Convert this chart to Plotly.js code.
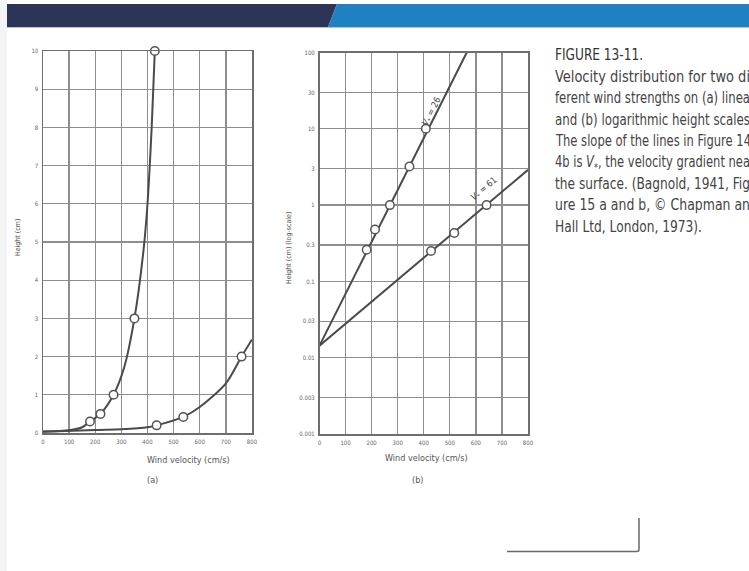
<!DOCTYPE html>
<html>
<head>
<meta charset="utf-8">
<script src="https://cdn.plot.ly/plotly-3.0.1.min.js"></script>
<style>
  html, body { margin: 0; padding: 0; background: #ffffff; }
  #chart { width: 749px; height: 571px; }
</style>
</head>
<body>
<div id="chart"></div>
<script>
// ---------- data ----------
// x tick values (wind velocity, cm/s)
const velTicks = [0, 100, 200, 300, 400, 500, 600, 700, 800];
const velTickText = ['0', '100', '200', '300', '400', '500', '600', '700', '800'];

// (a) linear height scale
const heightTicksA = [0, 1, 2, 3, 4, 5, 6, 7, 8, 9, 10];
const heightTickTextA = ['0', '1', '2', '3', '4', '5', '6', '7', '8', '9', '10'];

// weaker wind (V* = 26) curve on linear scale
const aCurve1Vel = [0, 100, 150, 180, 220, 270, 310, 350, 385, 400, 416, 428];
const aCurve1Hgt = [0.04, 0.07, 0.15, 0.3, 0.5, 1.0, 1.7, 3.0, 4.8, 6.0, 8.0, 10.0];
const aMarks1Vel = [180, 220, 270, 350, 428];
const aMarks1Hgt = [0.3, 0.5, 1.0, 3.0, 10.0];

// stronger wind (V* = 61) curve on linear scale
const aCurve2Vel = [0, 200, 300, 400, 435, 537, 600, 700, 760, 800];
const aCurve2Hgt = [0.03, 0.08, 0.1, 0.15, 0.2, 0.42, 0.68, 1.3, 2.0, 2.45];
const aMarks2Vel = [435, 537, 760];
const aMarks2Hgt = [0.2, 0.42, 2.0];

// (b) logarithmic height scale
const heightTicksB = [0.001, 0.003, 0.01, 0.03, 0.1, 0.3, 1, 3, 10, 30, 100];
const heightTickTextB = ['0.001', '0.003', '0.01', '0.03', '0.1', '0.3', '1', '3', '10', '30', '100'];

const bLine1Vel = [0, 565];
const bLine1Hgt = [0.0144, 100];
const bMarks1Vel = [181, 213, 270, 345, 408];
const bMarks1Hgt = [0.26, 0.48, 1.0, 3.2, 10];

const bLine2Vel = [0, 800];
const bLine2Hgt = [0.0144, 2.9];
const bMarks2Vel = [428, 517, 641];
const bMarks2Hgt = [0.25, 0.43, 1.0];

// caption as visible in the reference (right edge cut by the page)
const captionTitle = 'FIGURE 13-11.';
const captionLines = [
  'Velocity distribution for two di',
  'ferent wind strengths on (a) linea',
  'and (b) logarithmic height scales',
  'The slope of the lines in Figure 14',
  '4b is <i>V</i><sub>*</sub>, the velocity gradient nea',
  'the surface. (Bagnold, 1941, Fig',
  'ure 15 a and b, \u00A9 Chapman an',
  'Hall Ltd, London, 1973).'
];
// width each caption line fills (the last line is not justified)
const captionWidths = [195, 195, 195, 195, 195, 195, 195, 147];

// ---------- helpers ----------
const W = 749, H = 571;
const px = x => x / W;
const py = y => 1 - y / H;
const FONT = 'Liberation Sans Narrow, DejaVu Sans Condensed, Liberation Sans, sans-serif';
const curveColor = '#4a4a4a';
const gridColor = '#8e8e8e';

function curve(x, y, xa, ya) {
  return { x: x, y: y, xaxis: xa, yaxis: ya, mode: 'lines', type: 'scatter',
    line: { color: curveColor, width: 2, shape: 'spline', smoothing: 0.8 },
    hoverinfo: 'skip', showlegend: false };
}
function straight(x, y, xa, ya) {
  return { x: x, y: y, xaxis: xa, yaxis: ya, mode: 'lines', type: 'scatter',
    line: { color: curveColor, width: 2 }, hoverinfo: 'skip', showlegend: false };
}
function marks(x, y, xa, ya) {
  return { x: x, y: y, xaxis: xa, yaxis: ya, mode: 'markers', type: 'scatter',
    marker: { symbol: 'circle', size: 8.5, color: '#ffffff', line: { color: '#555555', width: 1.5 } },
    hoverinfo: 'skip', showlegend: false, cliponaxis: false };
}

const traces = [
  curve(aCurve1Vel, aCurve1Hgt, 'x', 'y'),
  curve(aCurve2Vel, aCurve2Hgt, 'x', 'y'),
  marks(aMarks1Vel, aMarks1Hgt, 'x', 'y'),
  marks(aMarks2Vel, aMarks2Hgt, 'x', 'y'),
  straight(bLine1Vel, bLine1Hgt, 'x2', 'y2'),
  straight(bLine2Vel, bLine2Hgt, 'x2', 'y2'),
  marks(bMarks1Vel, bMarks1Hgt, 'x2', 'y2'),
  marks(bMarks2Vel, bMarks2Hgt, 'x2', 'y2')
];

const axisCommon = {
  showgrid: true, gridcolor: gridColor, gridwidth: 1.3,
  showline: true, linecolor: '#6e6e6e', linewidth: 1.5, mirror: true,
  zeroline: false, ticks: '', fixedrange: true,
  tickfont: { family: FONT, size: 6, color: '#666666' }
};

const annotations = [
  // axis titles
  { text: 'Wind velocity (cm/s)', x: px(145), y: py(467), xref: 'paper', yref: 'paper', showarrow: false,
    font: { family: FONT, size: 9, color: '#555' } },
  { text: '(a)', x: px(145), y: py(487), xref: 'paper', yref: 'paper', showarrow: false,
    font: { family: FONT, size: 9, color: '#555' } },
  { text: 'Wind velocity (cm/s)', x: px(426), y: py(465), xref: 'paper', yref: 'paper', showarrow: false,
    font: { family: FONT, size: 9, color: '#555' } },
  { text: '(b)', x: px(417), y: py(487), xref: 'paper', yref: 'paper', showarrow: false,
    font: { family: FONT, size: 9, color: '#555' } },
  { text: 'Height (cm)', x: px(12), y: py(238), xref: 'paper', yref: 'paper', showarrow: false, textangle: -90,
    font: { family: FONT, size: 7, color: '#555' } },
  { text: 'Height (cm) (log-scale)', x: px(289), y: py(248), xref: 'paper', yref: 'paper', showarrow: false, textangle: -90,
    font: { family: FONT, size: 7, color: '#555' } },
  // line labels
  { text: '<i>V</i><sub>*</sub> = 26', x: px(432), y: py(93), xref: 'paper', yref: 'paper', showarrow: false, textangle: -63,
    font: { family: FONT, size: 9, color: '#444' } },
  { text: '<i>V</i><sub>*</sub> = 61', x: px(503), y: py(172), xref: 'paper', yref: 'paper', showarrow: false, textangle: -40,
    font: { family: FONT, size: 9, color: '#444' } }
];
const captionStart = annotations.length;
const captionAllWidths = [88].concat(captionWidths);
annotations.push({ text: captionTitle, x: px(553), y: py(55), xref: 'paper', yref: 'paper',
  xanchor: 'left', yanchor: 'middle', align: 'left', width: captionAllWidths[0] + 2,
  showarrow: false, font: { family: FONT, size: 16, color: '#333' } });
captionLines.forEach((t, i) => {
  annotations.push({ text: t, x: px(553), y: py(77 + i * 21.4), xref: 'paper', yref: 'paper',
    xanchor: 'left', yanchor: 'middle', align: 'left', showarrow: false,
    width: captionWidths[i] + 2, height: 18,
    font: { family: FONT, size: 15, color: '#444' } });
});

const shapes = [
  // grey left margin strip
  { type: 'rect', xref: 'paper', yref: 'paper', x0: 0, x1: px(7), y0: 0, y1: 1,
    fillcolor: '#f4f4f4', line: { width: 0 }, layer: 'below' },
  // header banner
  { type: 'path', xref: 'paper', yref: 'paper',
    path: `M ${px(7)} ${py(4)} L ${px(337)} ${py(4)} L ${px(328)} ${py(27)} L ${px(7)} ${py(27)} Z`,
    fillcolor: '#2c3458', line: { width: 0 } },
  { type: 'path', xref: 'paper', yref: 'paper',
    path: `M ${px(337)} ${py(4)} L ${px(749)} ${py(4)} L ${px(749)} ${py(27)} L ${px(328)} ${py(27)} Z`,
    fillcolor: '#1f80c2', line: { width: 0 } },
  { type: 'line', xref: 'paper', yref: 'paper', x0: px(7), x1: 1, y0: py(27.5), y1: py(27.5),
    line: { color: '#b9c3d6', width: 1 } },
  // bracket at lower right
  { type: 'path', xref: 'paper', yref: 'paper',
    path: `M ${px(507)} ${py(551.5)} L ${px(637)} ${py(551.5)} Q ${px(639)} ${py(551.5)} ${px(639)} ${py(549)} L ${px(639)} ${py(518)}`,
    line: { color: '#6a6a6a', width: 1.5 } }
];

const layout = {
  width: W, height: H,
  margin: { l: 0, r: 0, t: 0, b: 0, pad: 0 },
  paper_bgcolor: '#ffffff', plot_bgcolor: '#ffffff',
  showlegend: false,
  font: { family: FONT },
  xaxis: Object.assign({}, axisCommon, {
    domain: [px(43), px(252)], anchor: 'y', range: [0, 800],
    tickvals: velTicks, ticktext: velTickText, ticklabelstandoff: 2
  }),
  yaxis: Object.assign({}, axisCommon, {
    domain: [py(433), py(51)], anchor: 'x', range: [0, 10],
    tickvals: heightTicksA, ticktext: heightTickTextA, ticklabelstandoff: 2
  }),
  xaxis2: Object.assign({}, axisCommon, {
    domain: [px(319.5), px(528)], anchor: 'y2', range: [0, 800],
    tickvals: velTicks, ticktext: velTickText, ticklabelstandoff: 2
  }),
  yaxis2: Object.assign({}, axisCommon, {
    domain: [py(434), py(52.5)], anchor: 'x2', type: 'log', range: [-3, 2],
    tickvals: heightTicksB, ticktext: heightTickTextB, ticklabelstandoff: 2
  }),
  annotations: annotations,
  shapes: shapes
};

Plotly.newPlot('chart', traces, layout, { staticPlot: true, displayModeBar: false }).then(gd => {
  // justify the caption lines like the printed (condensed, justified) text
  captionAllWidths.forEach((w, k) => {
    const idx = captionStart + k;
    const t = gd.querySelector(`.annotation[data-index="${idx}"] text.annotation-text`);
    if (t) {
      t.setAttribute('textLength', w);
      t.setAttribute('lengthAdjust', 'spacingAndGlyphs');
    }
  });
});
</script>
</body>
</html>
